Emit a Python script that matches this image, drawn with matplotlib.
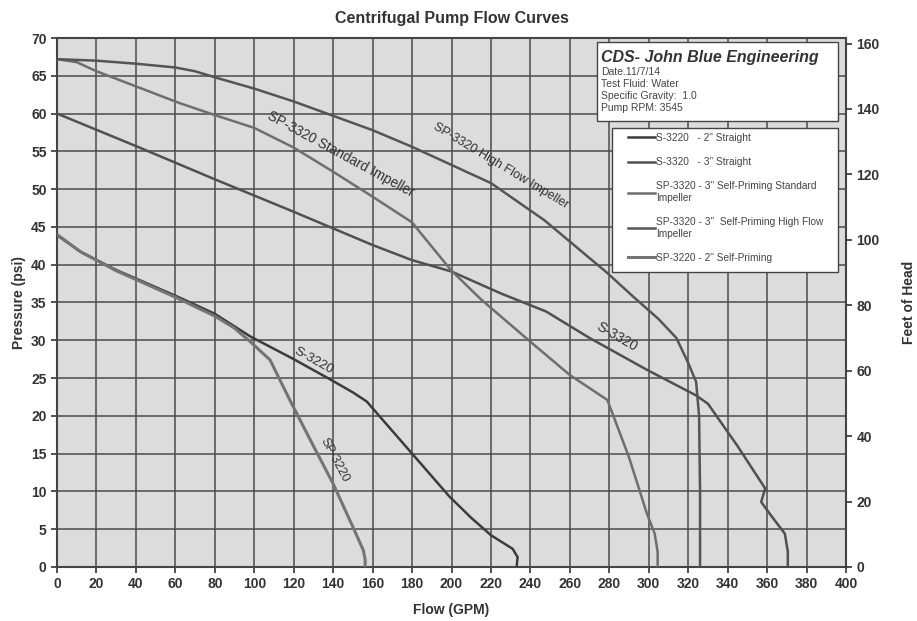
import numpy as np
import matplotlib
matplotlib.use('Agg')
import matplotlib.pyplot as plt
from matplotlib.patches import Rectangle

plt.rcParams['font.family'] = ['Liberation Sans', 'DejaVu Sans']

# flow (GPM) vs pressure (psi)
s3220_gpm = [0, 12, 30, 60, 80, 98, 120, 140, 150, 157, 165, 174, 199, 210, 220, 231, 233.5, 233]
s3220_psi = [43.9, 41.7, 39.3, 35.9, 33.5, 30.5, 27.5, 24.6, 23.1, 21.9, 19.5, 16.8, 9.3, 6.5, 4.2, 2.4, 1.3, 0]

s3320_gpm = [0, 40, 80, 120, 140, 160, 180, 200, 225, 248, 270, 299, 324, 330, 345, 359, 357, 362, 369, 370.5, 370.5]
s3320_psi = [60, 55.7, 51.3, 47, 44.8, 42.6, 40.6, 39.1, 36.2, 33.8, 30.3, 26.1, 22.7, 21.6, 16, 10.4, 8.6, 6.8, 4.4, 2, 0]

std_gpm = [0, 10, 20, 40, 62, 80, 100, 120, 140, 160, 180, 184, 200, 215, 240, 260, 279, 290, 299, 303, 304.5, 304.5]
std_psi = [67.2, 66.8, 65.6, 63.6, 61.4, 59.8, 58.1, 55.5, 52.3, 49.0, 45.6, 44.3, 39.2, 35.4, 29.8, 25.4, 22.1, 14.5, 7.1, 4.4, 2, 0]

hf_gpm = [0, 20, 40, 60, 70, 80, 100, 120, 140, 160, 180, 200, 220, 247, 279, 292, 305, 314, 320, 324, 325.5, 326, 326]
hf_psi = [67.2, 67.0, 66.6, 66.1, 65.6, 64.8, 63.3, 61.6, 59.7, 57.8, 55.6, 53.2, 50.8, 45.9, 38.9, 35.8, 32.8, 30.3, 27, 24.5, 20, 10, 0]

sp3220_gpm = [0, 12, 30, 60, 80, 90, 98, 108, 118, 130, 140, 150, 155.3, 156.2, 156.2]
sp3220_psi = [44, 41.7, 39.2, 35.7, 33.2, 31.6, 29.8, 27.4, 22.1, 16.0, 11.0, 5.3, 2.2, 1, 0]

legend_labels = ['S-3220   - 2" Straight',
                 'S-3320   - 3" Straight',
                 'SP-3320 - 3" Self-Priming Standard\nImpeller',
                 'SP-3320 - 3"  Self-Priming High Flow\nImpeller',
                 'SP-3220 - 2" Self-Priming']

info_lines = ['Date.11/7/14', 'Test Fluid: Water', 'Specific Gravity:  1.0', 'Pump RPM: 3545']

fig = plt.figure(figsize=(9.17, 6.21), dpi=100)
ax = fig.add_axes([0.0622, 0.087, 0.8604, 0.8518])
ax.set_facecolor('#dcdcdc')

ax.plot(s3220_gpm, s3220_psi, color='#3c3c3c', lw=1.8, label=legend_labels[0], zorder=3)
ax.plot(s3320_gpm, s3320_psi, color='#505050', lw=1.8, label=legend_labels[1], zorder=3)
ax.plot(std_gpm, std_psi, color='#6e6e6e', lw=1.8, label=legend_labels[2], zorder=3)
ax.plot(hf_gpm, hf_psi, color='#555555', lw=1.8, label=legend_labels[3], zorder=3)
ax.plot(sp3220_gpm, sp3220_psi, color='#747474', lw=2.2, label=legend_labels[4], zorder=3)

ax.set_xlim(0, 400)
ax.set_ylim(0, 70)
ax.set_xticks(np.arange(0, 401, 20))
ax.set_yticks(np.arange(0, 71, 5))
ax.grid(True, color='#4a4a4a', lw=1.1, zorder=1)
ax.set_axisbelow(True)
for s in ax.spines.values():
    s.set_color('#444444')
    s.set_linewidth(1.5)
ax.tick_params(labelsize=10, colors='#333333', length=4, width=1.2)
for lab in ax.get_xticklabels() + ax.get_yticklabels():
    lab.set_fontweight('bold')

ax.set_title('Centrifugal Pump Flow Curves', fontsize=11.5, fontweight='bold', color='#333333', pad=11)
ax.set_xlabel('Flow (GPM)', fontsize=10, fontweight='bold', color='#333333', labelpad=8)
ax.set_ylabel('Pressure (psi)', fontsize=10, fontweight='bold', color='#333333', labelpad=4)

ax2 = ax.twinx()
ax2.set_ylim(0, 70 * 2.31)
ax2.set_yticks(np.arange(0, 161, 20))
ax2.tick_params(labelsize=10, colors='#333333', length=4, width=1.2)
for lab in ax2.get_yticklabels():
    lab.set_fontweight('bold')
ax2.set_ylabel('Feet of Head', fontsize=10, fontweight='bold', color='#333333', labelpad=16)
for s in ax2.spines.values():
    s.set_visible(False)

# curve labels
lab_kw = dict(color='#333333', ha='center', va='center', rotation_mode='anchor', zorder=4)
ax.text(144, 54.6, 'SP-3320 Standard Impeller', rotation=-28.5, fontsize=9.8, **lab_kw)
ax.text(225, 53.1, 'SP-3320 High Flow Impeller', rotation=-31, fontsize=9, **lab_kw)
ax.text(284, 30.4, 'S-3320', rotation=-30, fontsize=10, **lab_kw)
ax.text(130, 27.3, 'S-3220', rotation=-29, fontsize=9.5, **lab_kw)
ax.text(140.5, 14.1, 'SP-3220', rotation=-62, fontsize=9, **lab_kw)

# info box
ax.add_patch(Rectangle((0.684, 0.844), 0.306, 0.148, transform=ax.transAxes,
                       facecolor='white', edgecolor='#444444', lw=1.0, zorder=5))
ax.text(0.689, 0.963, 'CDS- John Blue Engineering', transform=ax.transAxes, fontsize=11.5,
        fontweight='bold', style='italic', color='#333333', va='center', zorder=6)
for i, t in enumerate(info_lines):
    ax.text(0.689, 0.935 - i * 0.0227, t, transform=ax.transAxes, fontsize=7.5,
            color='#444444', va='center', zorder=6)

# legend box drawn separately so the side padding matches
ax.add_patch(Rectangle((0.7034, 0.557), 0.2866, 0.272, transform=ax.transAxes,
                       facecolor='white', edgecolor='#444444', lw=1.0, zorder=5))
leg = ax.legend(loc='upper left', bbox_to_anchor=(0.7237, 0.8205), fontsize=7.3, frameon=False,
                handlelength=2.7, handletextpad=0.1, labelspacing=1.4, borderpad=0,
                borderaxespad=0)
leg.set_zorder(6)
for t in leg.get_texts():
    t.set_color('#444444')

fig.savefig('out.png', dpi=100, facecolor='white')
